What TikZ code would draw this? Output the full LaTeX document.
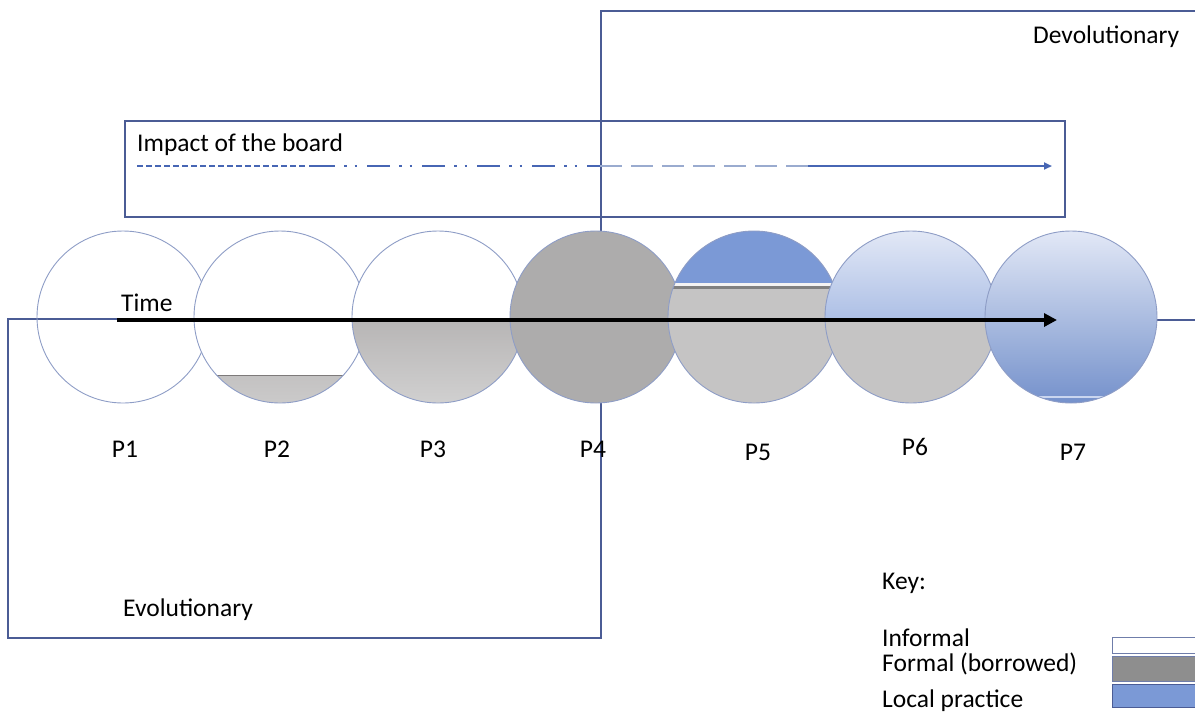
\documentclass[tikz,border=0pt]{standalone}
\usepackage{fontspec}
\setmainfont{Carlito}
\usetikzlibrary{arrows.meta}

\definecolor{zoneline}{HTML}{4B5C95}
\definecolor{ring}{HTML}{8E9DC6}
\definecolor{boardblue}{HTML}{4766B4}
\definecolor{boardfade}{HTML}{9AABCF}
\definecolor{formal}{HTML}{ADACAC}
\definecolor{formallight}{HTML}{C5C4C4}
\definecolor{formaldark}{HTML}{9C9999}
\definecolor{keygrey}{HTML}{8E8E8E}
\definecolor{local}{HTML}{7B99D6}
\definecolor{localpale}{HTML}{E2E8F6}

\tikzset{
  phase/.style={circle, draw=ring, line width=0.9pt, minimum size=172pt, inner sep=0pt},
  zone/.style={draw=zoneline, line width=1.2pt},
  board/.style={boardblue, line width=2.8pt},
  txt/.style={font=\fontsize{25.5}{30}\selectfont, inner sep=0pt, anchor=base west},
  keybox/.style={line width=1pt}
}

\begin{document}
\begin{tikzpicture}[x=1pt, y=-1pt]
  \useasboundingbox (0,0) rectangle (1195,713);
  \clip (0,0) rectangle (1195,713);

  % the two zones
  \draw[zone] (8,319) rectangle (601,638);
  \draw[zone] (601,11) rectangle (1215,320);
  \node[txt] (evo) at (123,616) {Evolutionary};
  \node[txt] (devo) at (1033,43) {Devolutionary};

  % impact of the board
  \draw[zone] (125,121) rectangle (1065,217);
  \node[txt] (impact) at (137,151) {Impact of the board};
  \coordinate (b0) at (137,166);
  \coordinate (b1) at (306,166);
  \coordinate (b2) at (309,166);
  \coordinate (b3) at (335,166);
  \coordinate (b4) at (600,166);
  \coordinate (b5) at (808,166);
  \coordinate (b6) at (1052,166);
  \draw[board, dash pattern=on 6pt off 3pt] (b0) -- (b1);
  \draw[board] (b2) -- (b3);
  \draw[board, dash pattern=on 23pt off 9pt on 2.5pt off 8pt on 2.5pt off 10pt, dash phase=23pt] (b3) -- (b4);
  \draw[board, boardfade, dash pattern=on 22pt off 9pt] (b4) -- (b5);
  \draw[board, line width=2.2pt, -{Triangle[length=8pt,width=7pt]}] (b5) -- (b6);

  % the seven phases
  \node[phase] (p1) at (123,317) {};
  \node[phase, fill=white, path picture={
      \shade[top color=formaldark, bottom color=formallight!90!white]
        ([yshift=-58pt]path picture bounding box.west) rectangle (path picture bounding box.south east);
      \draw[formaldark!80!black, line width=1pt]
        ([yshift=-58pt]path picture bounding box.west) -- ([yshift=-58pt]path picture bounding box.east);
    }] (p2) at (280,317) {};
  \node[phase, fill=white, path picture={
      \shade[top color=formaldark, bottom color=formallight!80!white]
        ([yshift=-3pt]path picture bounding box.west) rectangle (path picture bounding box.south east);
    }] (p3) at (438,317) {};
  \node[phase, fill=formal] (p4) at (596,317) {};
  \node[phase, fill=formallight, path picture={
      \fill[local] ([yshift=34pt]path picture bounding box.west) rectangle (path picture bounding box.north east);
      \fill[white!80!formallight] ([yshift=31pt]path picture bounding box.west) rectangle ([yshift=34pt]path picture bounding box.east);
      \fill[gray] ([yshift=28pt]path picture bounding box.west) rectangle ([yshift=31pt]path picture bounding box.east);
    }] (p5) at (754,317) {};
  \node[phase, fill=formallight, path picture={
      \shade[top color=localpale, bottom color=local]
        (path picture bounding box.north west) rectangle ([yshift=-3pt]path picture bounding box.east);
    }] (p6) at (911,317) {};
  \node[phase, path picture={
      \shade[top color=localpale, bottom color=local!95!black]
        (path picture bounding box.north west) rectangle (path picture bounding box.south east);
      \fill[white!60!local] ([yshift=5pt]path picture bounding box.south west) rectangle ([yshift=7pt]path picture bounding box.south east);
    }] (p7) at (1071,317) {};

  \foreach \x/\y/\n in {125/457/P1, 277/457/P2, 433/457/P3, 593/457/P4, 758/460/P5, 915/455/P6, 1073/460/P7} {
    \node[txt, anchor=base] at (\x,\y) {\n};
  }

  % time
  \coordinate (t0) at (117,320);
  \coordinate (t1) at (1057,320);
  \draw[black, line width=4pt, -{Triangle[length=13pt,width=13pt]}] (t0) -- (t1);
  \node[txt] (time) at (121,311) {Time};

  % key
  \node[txt] (key) at (882,589) {Key:};
  \node[txt] (kinf) at (882,646) {Informal};
  \node[txt] (kform) at (882,671) {Formal (borrowed)};
  \node[txt] (kloc) at (882,707) {Local practice};
  \draw[keybox, draw=zoneline!80, fill=white] (1112,637) rectangle (1215,653);
  \draw[keybox, draw=zoneline!80, fill=keygrey] (1112,656) rectangle (1215,681);
  \draw[keybox, draw=zoneline, fill=local] (1112,684) rectangle (1215,707);
\end{tikzpicture}
\end{document}
